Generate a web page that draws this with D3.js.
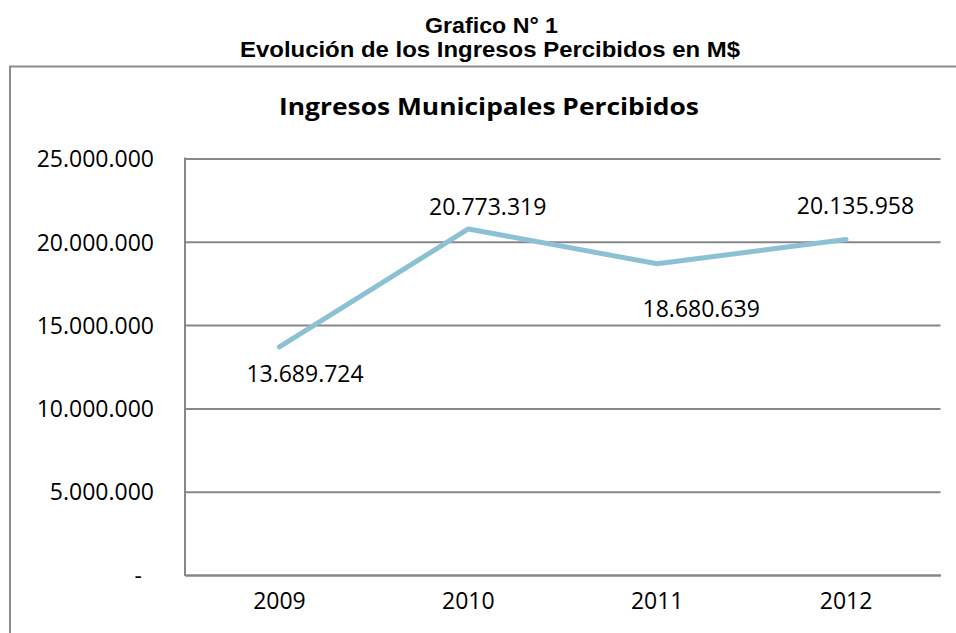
<!DOCTYPE html>
<html>
<head>
<meta charset="utf-8">
<script src="https://cdn.jsdelivr.net/npm/d3@7/dist/d3.min.js"></script>
<style>
  html, body { margin: 0; padding: 0; background: #fff; }
  svg { display: block; }
</style>
</head>
<body>
<svg id="chart" width="956" height="633"></svg>
<script>
// ---- data ----
const years = ["2009", "2010", "2011", "2012"];
const ingresos = [13689724, 20773319, 18680639, 20135958];
const yTicks = [0, 5000000, 10000000, 15000000, 20000000, 25000000];
const headerLines = ["Grafico N° 1", "Evolución de los Ingresos Percibidos en M$"];
const chartTitle = "Ingresos Municipales Percibidos";

// ---- layout ----
const W = 956, H = 633;
const plot = { left: 185, right: 940.5, top: 158.5, bottom: 575 };
// manual data-label placement relative to each point (dx, baseline dy)
const labelPlacement = [
  { dx: 25.6, dy: 35 },
  { dx: 19.4, dy: -14 },
  { dx: 44, dy: 53 },
  { dx: 9.4, dy: -26 }
];

const svg = d3.select("#chart");
const locale = d3.formatLocale({ decimal: ",", thousands: ".", grouping: [3], currency: ["$", ""] });
const fmt = locale.format(",d");

const gray = "#878787";
const numFont = "'Open Sans', 'Noto Sans', sans-serif";
const headFont = "'Liberation Sans', Arial, sans-serif";

// header
svg.append("text")
  .attr("x", 491.5).attr("y", 32.7)
  .attr("text-anchor", "middle")
  .attr("font-family", headFont)
  .attr("font-weight", "bold").attr("font-size", 22)
  .attr("textLength", 133).attr("lengthAdjust", "spacingAndGlyphs")
  .attr("fill", "#000")
  .text(headerLines[0]);
svg.append("text")
  .attr("x", 490).attr("y", 57.3)
  .attr("text-anchor", "middle")
  .attr("font-family", headFont)
  .attr("font-weight", "bold").attr("font-size", 21.5)
  .attr("textLength", 500).attr("lengthAdjust", "spacingAndGlyphs")
  .attr("fill", "#000")
  .text(headerLines[1]);

// frame (left and top edges visible; right and bottom lie outside the picture)
svg.append("path")
  .attr("d", d3.path().toString() || `M10,${H + 20}V66.5H${W + 20}`)
  .attr("fill", "none")
  .attr("stroke", "#8c8c8c").attr("stroke-width", 2);

// chart title
svg.append("text")
  .attr("x", 489).attr("y", 115)
  .attr("text-anchor", "middle")
  .attr("font-family", numFont)
  .attr("font-weight", "bold").attr("font-size", 23.4)
  .attr("textLength", 420).attr("lengthAdjust", "spacingAndGlyphs")
  .attr("fill", "#000")
  .text(chartTitle);

// scales
const x = d3.scaleBand().domain(years).range([plot.left, plot.right]);
const y = d3.scaleLinear().domain([0, 25000000]).range([plot.bottom, plot.top]);
const cx = d => x(d) + x.bandwidth() / 2;

// gridlines
svg.append("g")
  .attr("transform", `translate(${plot.left},0)`)
  .call(d3.axisLeft(y).tickValues(yTicks).tickSize(-(plot.right - plot.left)).tickFormat(""))
  .call(g => g.select(".domain").remove())
  .call(g => g.selectAll(".tick line").attr("stroke", gray).attr("stroke-width", 2));

// y axis labels
const yAxisG = svg.append("g")
  .attr("transform", `translate(${plot.left},0)`)
  .call(d3.axisLeft(y).tickValues(yTicks).tickSize(0).tickPadding(31)
    .tickFormat(d => d === 0 ? "-" : fmt(d)))
  .call(g => g.select(".domain").remove());
yAxisG.selectAll(".tick text")
  .attr("font-family", numFont).attr("font-size", 23)
  .attr("fill", "#000")
  .attr("dy", "0.36em");
yAxisG.selectAll(".tick").filter(d => d === 0).select("text").attr("x", -43);

// left axis line
svg.append("line")
  .attr("x1", plot.left).attr("x2", plot.left)
  .attr("y1", plot.top - 1).attr("y2", plot.bottom + 1)
  .attr("stroke", gray).attr("stroke-width", 2);

// x axis
const xAxisG = svg.append("g")
  .attr("transform", `translate(0,${plot.bottom})`)
  .call(d3.axisBottom(x).tickSize(0).tickPadding(18))
  .call(g => g.select(".domain").attr("stroke", gray).attr("stroke-width", 2));
xAxisG.selectAll(".tick text")
  .attr("font-family", numFont).attr("font-size", 23)
  .attr("fill", "#000")
  .attr("dy", "0.71em");

// line
const data = years.map((yr, i) => ({ yr, v: ingresos[i] }));
svg.append("path")
  .datum(data)
  .attr("fill", "none")
  .attr("stroke", "#8CC1D4")
  .attr("stroke-width", 5)
  .attr("stroke-linecap", "round")
  .attr("stroke-linejoin", "round")
  .attr("d", d3.line().x(d => cx(d.yr)).y(d => y(d.v)));

// data labels
svg.append("g").selectAll("text")
  .data(data)
  .join("text")
  .attr("x", (d, i) => cx(d.yr) + labelPlacement[i].dx)
  .attr("y", (d, i) => y(d.v) + labelPlacement[i].dy)
  .attr("text-anchor", "middle")
  .attr("font-family", numFont).attr("font-size", 23)
  .attr("fill", "#000")
  .text(d => fmt(d.v));
</script>
</body>
</html>
